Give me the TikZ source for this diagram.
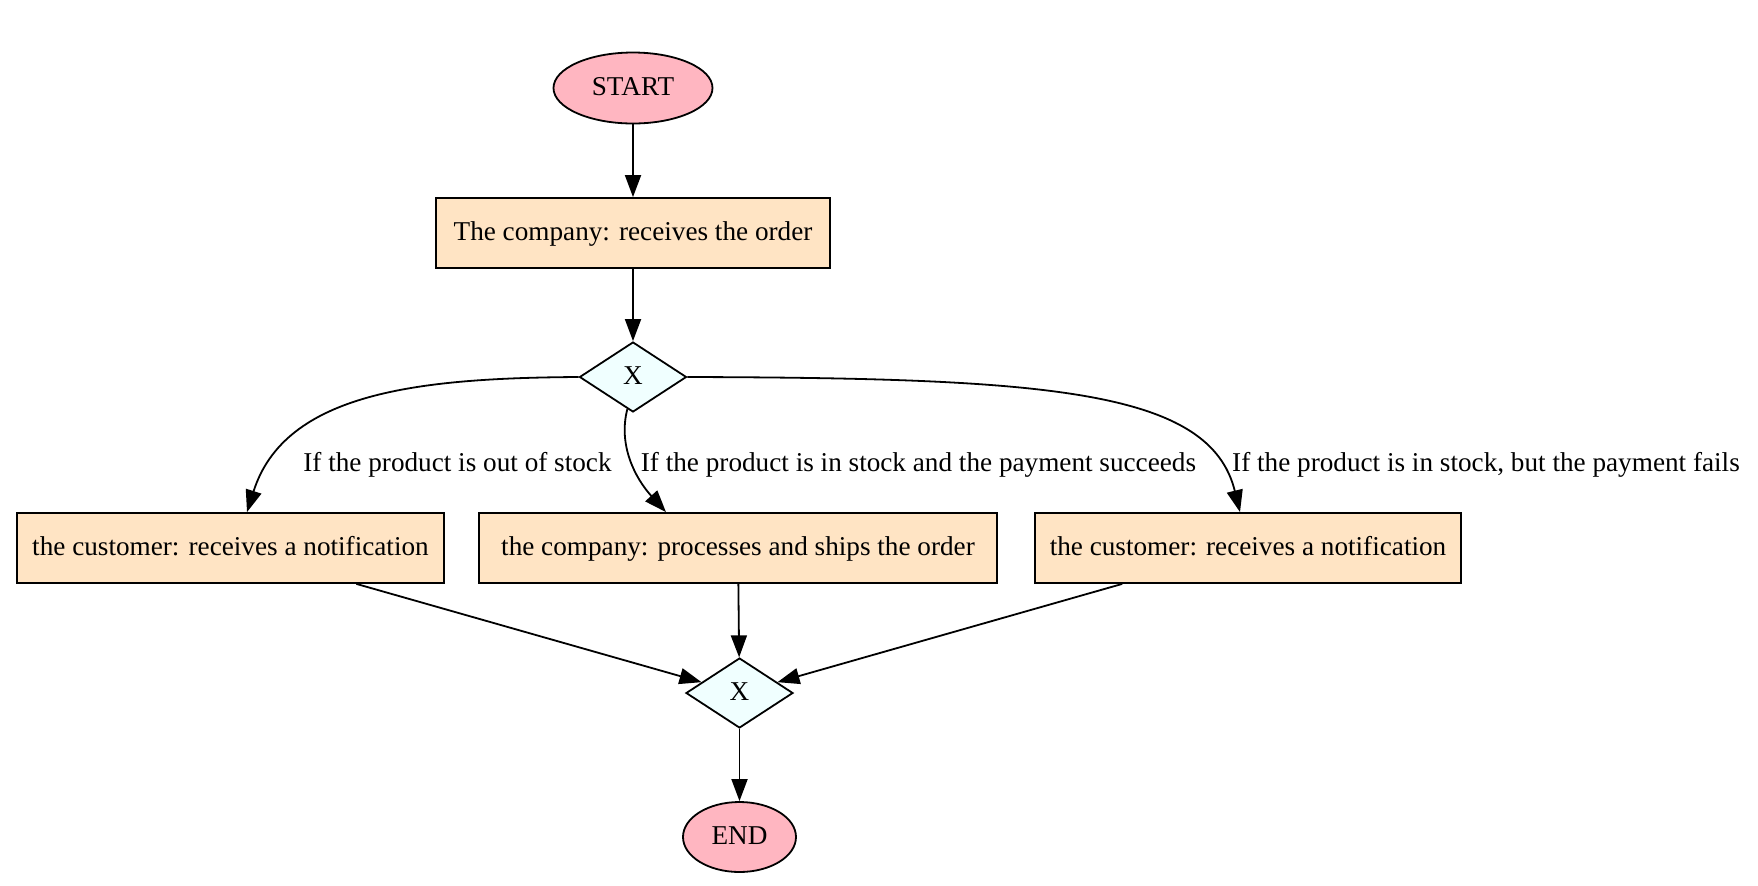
\documentclass[tikz,border=0pt]{standalone}
\usepackage{fontspec}
\setmainfont{Liberation Serif}
\usetikzlibrary{shapes.geometric,arrows.meta}
\definecolor{startpink}{HTML}{FFB6C1}
\definecolor{taskfill}{HTML}{FFE4C4}
\definecolor{gatefill}{HTML}{F0FFFF}
\tikzset{
  base/.style={draw=black, line width=0.9pt, inner sep=0pt, text height=10pt, text depth=3pt, font=\fontsize{13.6pt}{16pt}\selectfont},
  terminal/.style={base, ellipse, fill=startpink, text height=10.5pt},
  taskbox/.style={base, rectangle, fill=taskfill, minimum height=35pt},
  gate/.style={base, diamond, fill=gatefill, minimum width=53.5pt, minimum height=35pt},
  edge/.style={draw=black, line width=0.9pt, -{Triangle[length=11pt,width=8pt]}},
  elabel/.style={inner sep=0pt, anchor=base, font=\fontsize{13.6pt}{16pt}\selectfont}
}
\begin{document}
\begin{tikzpicture}[x=0.5pt,y=-0.5pt]
\useasboundingbox (0,0) rectangle (1758,885);
\node[terminal, minimum width=79.5pt, minimum height=35.5pt] (start) at (633,88) {START};
\node[taskbox, minimum width=197pt] (recv) at (633,233) {The company: receives the order};
\node[gate] (d1) at (633,377) {X};
\node[taskbox, minimum width=213.5pt] (lb) at (230.5,548) {the customer: receives a notification};
\node[taskbox, minimum width=259pt] (mb) at (738,548) {the company: processes and ships the order};
\node[taskbox, minimum width=213pt] (rb) at (1248,548) {the customer: receives a notification};
\node[gate] (d2) at (739.5,693) {X};
\node[terminal, minimum width=56.5pt, minimum height=35pt] (end) at (739.5,837) {END};

\node[elabel] (l1) at (457.5,471) {If the product is out of stock};
\node[elabel] (l2) at (918.5,471) {If the product is in stock and the payment succeeds};
\node[elabel] (l3) at (1486,471) {If the product is in stock, but the payment fails};

\draw[edge] (start) -- (recv);
\draw[edge] (recv) -- (d1);
\draw[edge] (d1.west) .. controls (420,378) and (285,392) .. ([xshift=8.25pt]lb.north);
\draw[edge] (d1.-100) .. controls (618,445) and (635,478) .. ([xshift=-36pt]mb.north);
\draw[edge] (d1.east) .. controls (1050,378) and (1210,390) .. ([xshift=-4pt]rb.north);
\draw[edge] (lb) -- (d2);
\draw[edge] (mb) -- (d2);
\draw[edge] (rb) -- (d2);
\draw[edge] (d2) -- (end);
\end{tikzpicture}
\end{document}
